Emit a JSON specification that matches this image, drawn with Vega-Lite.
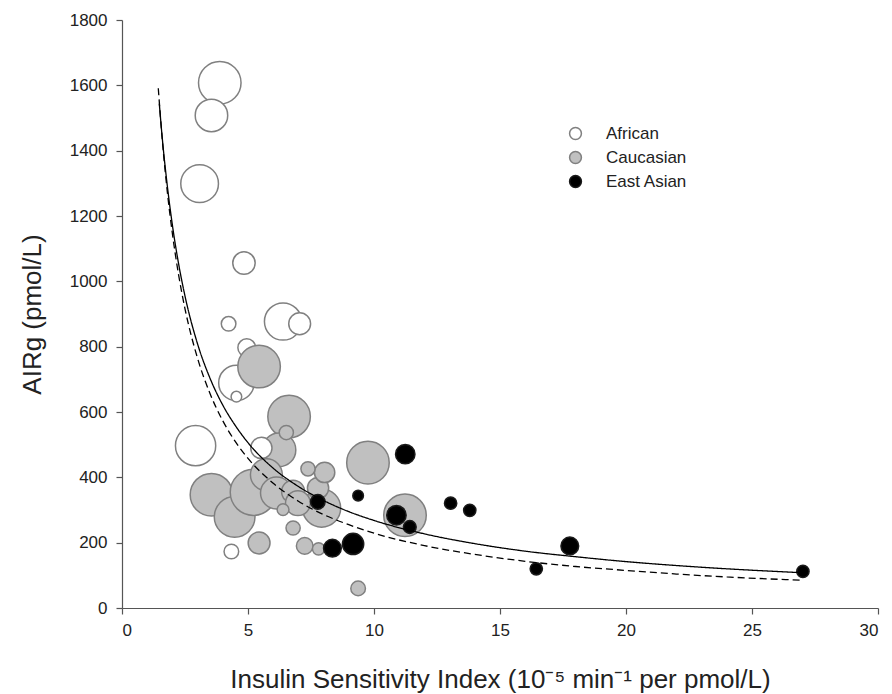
{
  "$schema": "https://vega.github.io/schema/vega-lite/v6.json",
  "autosize": {"type": "none"},
  "width": 756,
  "height": 588,
  "padding": {"left": 122, "top": 20, "right": 14, "bottom": 86},
  "background": "white",
  "config": {
    "view": {"stroke": null},
    "font": "Liberation Sans",
    "axis": {
      "grid": false,
      "domainColor": "#555555",
      "tickColor": "#555555",
      "domainWidth": 1.2,
      "tickWidth": 1.2,
      "tickSize": 6,
      "labelFont": "Liberation Sans",
      "titleFont": "Liberation Sans",
      "labelFontSize": 17,
      "titleFontSize": 26,
      "titleFontWeight": "normal",
      "labelColor": "#222222",
      "titleColor": "#222222"
    },
    "legend": {
      "labelFont": "Liberation Sans",
      "labelFontSize": 17,
      "labelColor": "#222222"
    }
  },
  "datasets": {
    "points": [
      {"group": "African", "isi": 3.88, "air": 1608, "n": 144},
      {"group": "African", "isi": 3.55, "air": 1508, "n": 84},
      {"group": "African", "isi": 3.08, "air": 1299, "n": 113},
      {"group": "African", "isi": 4.84, "air": 1056, "n": 40},
      {"group": "African", "isi": 4.23, "air": 870, "n": 17},
      {"group": "African", "isi": 6.39, "air": 877, "n": 110},
      {"group": "African", "isi": 7.05, "air": 870, "n": 38},
      {"group": "African", "isi": 4.95, "air": 797, "n": 25},
      {"group": "African", "isi": 4.54, "air": 689, "n": 100},
      {"group": "African", "isi": 4.54, "air": 647, "n": 9},
      {"group": "African", "isi": 2.92, "air": 497, "n": 129},
      {"group": "African", "isi": 4.34, "air": 173, "n": 17},
      {"group": "Caucasian", "isi": 3.55, "air": 347, "n": 144},
      {"group": "Caucasian", "isi": 4.47, "air": 279, "n": 132},
      {"group": "Caucasian", "isi": 5.21, "air": 354, "n": 169},
      {"group": "Caucasian", "isi": 5.44, "air": 739, "n": 144},
      {"group": "Caucasian", "isi": 6.63, "air": 586, "n": 144},
      {"group": "Caucasian", "isi": 6.23, "air": 484, "n": 90},
      {"group": "Caucasian", "isi": 5.73, "air": 408, "n": 81},
      {"group": "Caucasian", "isi": 6.13, "air": 352, "n": 81},
      {"group": "Caucasian", "isi": 7.92, "air": 306, "n": 116},
      {"group": "Caucasian", "isi": 9.76, "air": 445, "n": 144},
      {"group": "Caucasian", "isi": 11.23, "air": 284, "n": 144},
      {"group": "African", "isi": 5.53, "air": 490, "n": 36},
      {"group": "Caucasian", "isi": 6.79, "air": 356, "n": 42},
      {"group": "Caucasian", "isi": 6.98, "air": 321, "n": 49},
      {"group": "Caucasian", "isi": 7.78, "air": 367, "n": 36},
      {"group": "Caucasian", "isi": 8.04, "air": 415, "n": 33},
      {"group": "Caucasian", "isi": 7.38, "air": 426, "n": 16},
      {"group": "Caucasian", "isi": 6.52, "air": 537, "n": 16},
      {"group": "Caucasian", "isi": 6.39, "air": 301, "n": 11},
      {"group": "Caucasian", "isi": 6.79, "air": 245, "n": 16},
      {"group": "Caucasian", "isi": 5.44, "air": 199, "n": 38},
      {"group": "Caucasian", "isi": 7.25, "air": 190, "n": 22},
      {"group": "Caucasian", "isi": 7.80, "air": 181, "n": 12},
      {"group": "Caucasian", "isi": 9.37, "air": 60, "n": 17},
      {"group": "East Asian", "isi": 7.77, "air": 325, "n": 17},
      {"group": "East Asian", "isi": 8.35, "air": 183, "n": 25},
      {"group": "East Asian", "isi": 9.17, "air": 196, "n": 36},
      {"group": "East Asian", "isi": 9.37, "air": 344, "n": 9},
      {"group": "East Asian", "isi": 11.24, "air": 471, "n": 30},
      {"group": "East Asian", "isi": 10.89, "air": 284, "n": 30},
      {"group": "East Asian", "isi": 11.42, "air": 248, "n": 13},
      {"group": "East Asian", "isi": 13.04, "air": 321, "n": 12},
      {"group": "East Asian", "isi": 13.80, "air": 299, "n": 12},
      {"group": "East Asian", "isi": 16.44, "air": 120, "n": 12},
      {"group": "East Asian", "isi": 17.77, "air": 190, "n": 25},
      {"group": "East Asian", "isi": 27.02, "air": 112, "n": 12}
    ],
    "curves": [
      {"fit": "solid", "isi": 1.48, "air": 1544},
      {"fit": "solid", "isi": 1.6, "air": 1437},
      {"fit": "solid", "isi": 1.8, "air": 1291},
      {"fit": "solid", "isi": 2.0, "air": 1172},
      {"fit": "solid", "isi": 2.25, "air": 1052},
      {"fit": "solid", "isi": 2.5, "air": 955},
      {"fit": "solid", "isi": 3.0, "air": 808},
      {"fit": "solid", "isi": 3.5, "air": 702},
      {"fit": "solid", "isi": 4.0, "air": 621},
      {"fit": "solid", "isi": 4.5, "air": 558},
      {"fit": "solid", "isi": 5.0, "air": 506},
      {"fit": "solid", "isi": 6.0, "air": 428},
      {"fit": "solid", "isi": 7.0, "air": 372},
      {"fit": "solid", "isi": 8.0, "air": 329},
      {"fit": "solid", "isi": 9.0, "air": 295},
      {"fit": "solid", "isi": 10.0, "air": 268},
      {"fit": "solid", "isi": 12.0, "air": 227},
      {"fit": "solid", "isi": 14.0, "air": 197},
      {"fit": "solid", "isi": 16.0, "air": 174},
      {"fit": "solid", "isi": 18.0, "air": 157},
      {"fit": "solid", "isi": 20.0, "air": 142},
      {"fit": "solid", "isi": 22.0, "air": 130},
      {"fit": "solid", "isi": 24.0, "air": 120},
      {"fit": "solid", "isi": 27.0, "air": 108},
      {"fit": "dashed", "isi": 1.44, "air": 1591},
      {"fit": "dashed", "isi": 1.6, "air": 1432},
      {"fit": "dashed", "isi": 1.8, "air": 1273},
      {"fit": "dashed", "isi": 2.0, "air": 1146},
      {"fit": "dashed", "isi": 2.25, "air": 1018},
      {"fit": "dashed", "isi": 2.5, "air": 916},
      {"fit": "dashed", "isi": 3.0, "air": 764},
      {"fit": "dashed", "isi": 3.5, "air": 655},
      {"fit": "dashed", "isi": 4.0, "air": 573},
      {"fit": "dashed", "isi": 4.5, "air": 509},
      {"fit": "dashed", "isi": 5.0, "air": 458},
      {"fit": "dashed", "isi": 6.0, "air": 382},
      {"fit": "dashed", "isi": 7.0, "air": 327},
      {"fit": "dashed", "isi": 8.0, "air": 286},
      {"fit": "dashed", "isi": 9.0, "air": 255},
      {"fit": "dashed", "isi": 10.0, "air": 229},
      {"fit": "dashed", "isi": 12.0, "air": 191},
      {"fit": "dashed", "isi": 14.0, "air": 164},
      {"fit": "dashed", "isi": 16.0, "air": 143},
      {"fit": "dashed", "isi": 18.0, "air": 127},
      {"fit": "dashed", "isi": 20.0, "air": 115},
      {"fit": "dashed", "isi": 22.0, "air": 104},
      {"fit": "dashed", "isi": 24.0, "air": 95},
      {"fit": "dashed", "isi": 27.0, "air": 85}
    ]
  },
  "layer": [
    {
      "data": {"name": "points"},
      "mark": {"type": "circle", "strokeWidth": 1.5, "opacity": 1},
      "encoding": {
        "x": {
          "field": "isi", "type": "quantitative",
          "scale": {"domain": [0, 30], "nice": false},
          "axis": {"values": [0, 5, 10, 15, 20, 25, 30], "labelPadding": 8, "titlePadding": 28,
                   "title": "Insulin Sensitivity Index (10⁻⁵ min⁻¹ per pmol/L)"}
        },
        "y": {
          "field": "air", "type": "quantitative",
          "scale": {"domain": [0, 1800], "nice": false},
          "axis": {"values": [0, 200, 400, 600, 800, 1000, 1200, 1400, 1600, 1800], "format": "d", "labelPadding": 9, "titlePadding": 24,
                   "title": "AIRg (pmol/L)"}
        },
        "size": {"field": "n", "type": "quantitative", "scale": {"domain": [0, 200], "range": [0, 2513]}, "legend": null},
        "fill": {
          "field": "group", "type": "nominal",
          "scale": {"domain": ["African", "Caucasian", "East Asian"], "range": ["#ffffff", "#c0c0c0", "#000000"]},
          "legend": {"title": null, "orient": "none", "legendX": 445, "legendY": 105, "padding": 0,
                     "symbolType": "circle", "symbolSize": 140, "symbolStrokeWidth": 1.5,
                     "labelOffset": 22, "rowPadding": 5}
        },
        "stroke": {
          "field": "group", "type": "nominal",
          "scale": {"domain": ["African", "Caucasian", "East Asian"], "range": ["#808080", "#808080", "#1a1a1a"]},
          "legend": {"title": null, "orient": "none", "legendX": 445, "legendY": 105, "padding": 0,
                     "symbolType": "circle", "symbolSize": 140, "symbolStrokeWidth": 1.5,
                     "labelOffset": 22, "rowPadding": 5}
        }
      }
    },
    {
      "data": {"name": "curves"},
      "mark": {"type": "line", "color": "#000000", "strokeWidth": 1.3, "interpolate": "monotone"},
      "encoding": {
        "x": {"field": "isi", "type": "quantitative"},
        "y": {"field": "air", "type": "quantitative"},
        "detail": {"field": "fit"},
        "strokeDash": {
          "field": "fit", "type": "nominal",
          "scale": {"domain": ["solid", "dashed"], "range": [[1, 0], [7, 4]]},
          "legend": null
        }
      }
    }
  ]
}
